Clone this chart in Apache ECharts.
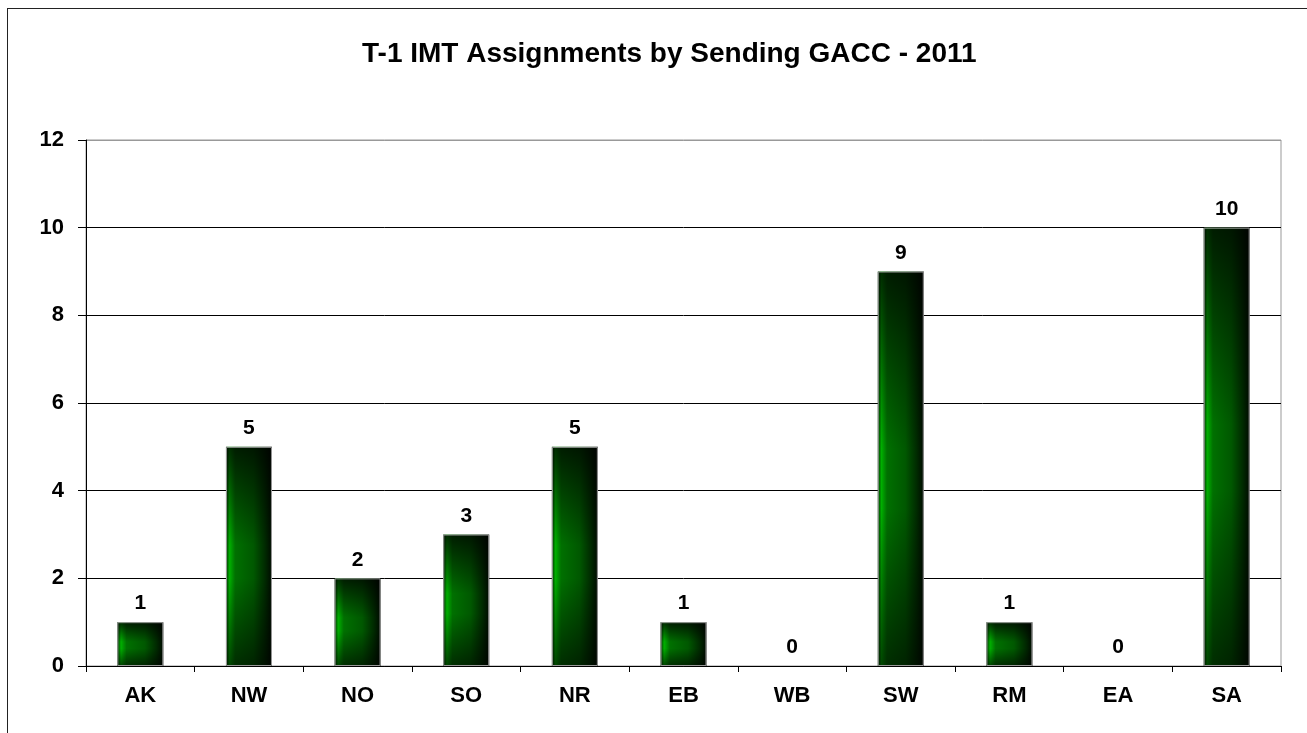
<!DOCTYPE html>
<html>
<head>
<meta charset="utf-8">
<title>T-1 IMT Assignments by Sending GACC - 2011</title>
<script src="https://cdn.jsdelivr.net/npm/echarts@6/dist/echarts.min.js"></script>
<style>
  html, body { margin: 0; padding: 0; background: #fff; overflow: hidden; }
  #wrap { position: relative; width: 1307px; height: 733px; }
  .frame {
    position: absolute; left: 7px; top: 8px;
    width: 1400px; height: 900px;
    border: 1.5px solid #222;
  }
  #chart { position: absolute; left: 0; top: 0; width: 1307px; height: 733px; }
</style>
</head>
<body>
<div id="wrap">
  <div class="frame"></div>
  <div id="chart"></div>
</div>
<script>
// 数据
const categories = ['AK', 'NW', 'NO', 'SO', 'NR', 'EB', 'WB', 'SW', 'RM', 'EA', 'SA'];
const assignments = [1, 5, 2, 3, 5, 1, 0, 9, 1, 0, 10];
const yTicks = [0, 2, 4, 6, 8, 10, 12];

const fontFamily = '"Liberation Sans", Arial, sans-serif';

// 横向渐变：左侧亮绿，右侧暗
const barFill = new echarts.graphic.LinearGradient(0, 0, 1, 0, [
  { offset: 0, color: '#003000' },
  { offset: 0.08, color: '#00b000' },
  { offset: 0.2, color: '#007000' },
  { offset: 0.6, color: '#005800' },
  { offset: 0.85, color: '#002a00' },
  { offset: 1, color: '#000a00' }
]);
// 纵向阴影：上下两端变暗
const barShade = new echarts.graphic.LinearGradient(0, 0, 0, 1, [
  { offset: 0, color: 'rgba(0,0,0,0.75)' },
  { offset: 0.45, color: 'rgba(0,0,0,0)' },
  { offset: 0.6, color: 'rgba(0,0,0,0)' },
  { offset: 1, color: 'rgba(0,0,0,0.6)' }
]);

const chart = echarts.init(document.getElementById('chart'));
chart.setOption({
  animation: false,
  title: {
    text: 'T-1 IMT Assignments by Sending GACC - 2011',
    left: 357,
    top: 35,
    textStyle: { fontFamily, fontSize: 28, fontWeight: 'bold', color: '#000' }
  },
  grid: {
    left: 86, right: 26, top: 140, bottom: 67,
    show: true, borderColor: '#999', borderWidth: 1
  },
  xAxis: {
    type: 'category',
    data: categories,
    axisLine: { lineStyle: { color: '#000', width: 1 } },
    axisTick: { show: true, length: 6, lineStyle: { color: '#000' } },
    axisLabel: { fontFamily, fontSize: 22, fontWeight: 'bold', color: '#000', margin: 19 }
  },
  yAxis: {
    type: 'value',
    min: 0, max: 12, interval: 2,
    axisLine: { show: true, lineStyle: { color: '#000', width: 1 } },
    axisTick: { show: true, length: 8, lineStyle: { color: '#000' } },
    axisLabel: {
      fontFamily, fontSize: 22, fontWeight: 'bold', color: '#000', margin: 22,
      formatter: v => yTicks.includes(v) ? String(v) : ''
    },
    splitLine: {
      lineStyle: { color: ['#000', '#000', '#000', '#000', '#000', '#000', '#999'], width: 1 }
    }
  },
  series: [
    {
      name: 'Assignments',
      type: 'bar',
      data: assignments,
      barWidth: 46,
      itemStyle: { color: barFill },
      label: {
        show: true, position: 'top', distance: 8,
        fontFamily, fontSize: 21, fontWeight: 'bold', color: '#000'
      },
      z: 2
    },
    {
      name: 'shade',
      type: 'bar',
      data: assignments.map(v => v === 0 ? { value: 0, itemStyle: { borderWidth: 0 } } : v),
      barWidth: 46,
      barGap: '-100%',
      itemStyle: { color: barShade, borderColor: '#999', borderWidth: 1 },
      silent: true,
      z: 3
    }
  ]
});
</script>
</body>
</html>
